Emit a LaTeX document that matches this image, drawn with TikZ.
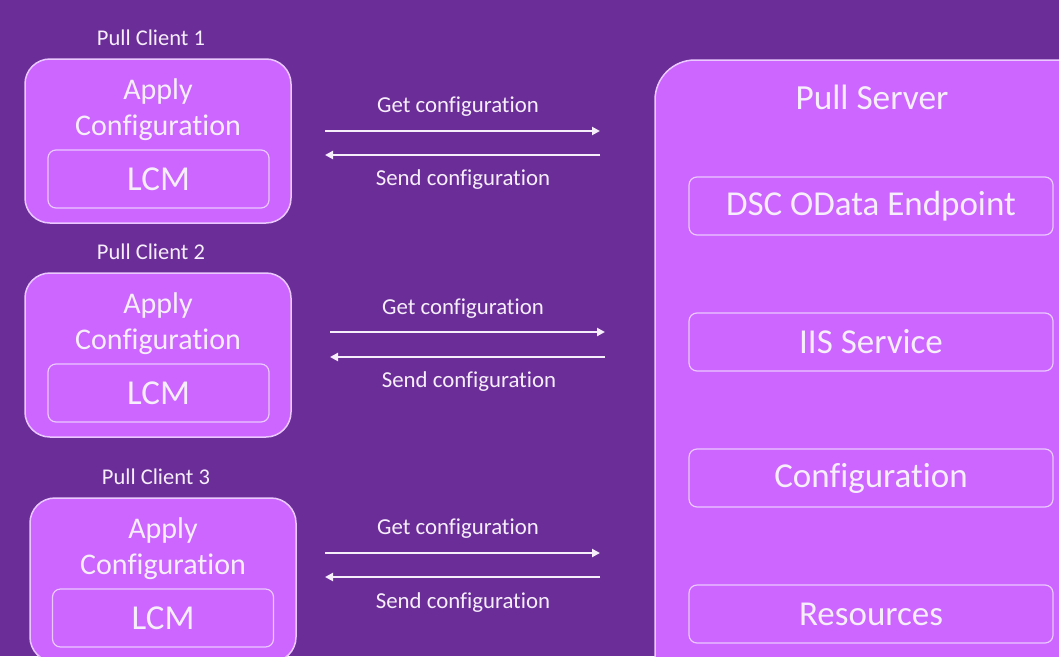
\documentclass[tikz,border=0pt]{standalone}
\usepackage{fontspec}
\setmainfont{Carlito}[Ligatures=NoCommon]
\usetikzlibrary{arrows.meta}
\definecolor{bgpurple}{HTML}{6B2E98}
\definecolor{boxpink}{HTML}{CC66FF}
\definecolor{edgepink}{HTML}{EBC9FF}
\definecolor{txtwhite}{HTML}{F6EEFB}
\tikzset{
  clientbox/.style={draw=edgepink, line width=1.5pt, fill=boxpink, rounded corners=25pt,
    inner sep=0pt, minimum width=266pt, minimum height=164pt},
  serverbox/.style={draw=edgepink, line width=1.5pt, fill=boxpink, rounded corners=40pt,
    inner sep=0pt, minimum width=450pt, minimum height=640pt},
  partbox/.style={draw=edgepink, line width=1.2pt, rounded corners=8pt, inner sep=0pt,
    text=txtwhite, font=\fontsize{35}{40}\selectfont},
  lcmbox/.style={partbox, minimum width=221pt, minimum height=58pt},
  srvpart/.style={partbox, minimum width=364pt, minimum height=58pt},
  title/.style={text=txtwhite, font=\fontsize{22.5}{26}\selectfont},
  applytext/.style={text=txtwhite, align=center, font=\fontsize{30}{36}\selectfont},
  msg/.style={text=txtwhite, font=\fontsize{22.8}{26}\selectfont},
  flow/.style={draw=txtwhite, line width=2pt, -{Triangle[length=8pt,width=8pt]}}
}
\begin{document}
\begin{tikzpicture}[x=1pt, y=-1pt]
  \useasboundingbox (0,0) rectangle (1059,656);
  \fill[bgpurple] (0,0) rectangle (1059,656);
  \clip (0,0) rectangle (1059,656);

  % pull clients
  \node[title] (t1) at (151,38) {Pull Client 1};
  \node[clientbox] (c1) at (158,141) {};
  \node[applytext] (a1) at (158,110) {Apply\\Configuration};
  \node[lcmbox] (l1) at (158.5,179) {LCM};

  \node[title] (t2) at (151,252) {Pull Client 2};
  \node[clientbox] (c2) at (158,355) {};
  \node[applytext] (a2) at (158,324) {Apply\\Configuration};
  \node[lcmbox] (l2) at (158.5,393) {LCM};

  \node[title] (t3) at (156,477) {Pull Client 3};
  \node[clientbox] (c3) at (163,580) {};
  \node[applytext] (a3) at (163,549) {Apply\\Configuration};
  \node[lcmbox] (l3) at (163,618) {LCM};

  % pull server
  \node[serverbox] (srv) at (880,380) {};
  \node[text=txtwhite, font=\fontsize{35.3}{40}\selectfont] (st) at (872,97) {Pull Server};
  \node[srvpart] (odata) at (871,206) {DSC OData Endpoint};
  \node[srvpart] (iis) at (871,342) {IIS Service};
  \node[srvpart] (cfg) at (871,478) {Configuration};
  \node[srvpart] (res) at (871,614) {Resources};

  % messages
  \coordinate (g1a) at (325,131); \coordinate (g1b) at (600,131);
  \coordinate (s1a) at (600,155); \coordinate (s1b) at (325,155);
  \coordinate (g2a) at (330,332); \coordinate (g2b) at (605,332);
  \coordinate (s2a) at (605,357); \coordinate (s2b) at (330,357);
  \coordinate (g3a) at (325,553); \coordinate (g3b) at (600,553);
  \coordinate (s3a) at (600,577); \coordinate (s3b) at (325,577);

  \draw[flow] (g1a) -- (g1b);
  \draw[flow] (s1a) -- (s1b);
  \draw[flow] (g2a) -- (g2b);
  \draw[flow] (s2a) -- (s2b);
  \draw[flow] (g3a) -- (g3b);
  \draw[flow] (s3a) -- (s3b);

  \node[msg] (gm1) at (458,107) {Get configuration};
  \node[msg] (sm1) at (463,180) {Send configuration};
  \node[msg] (gm2) at (463,309) {Get configuration};
  \node[msg] (sm2) at (469,382) {Send configuration};
  \node[msg] (gm3) at (458,529) {Get configuration};
  \node[msg] (sm3) at (463,603) {Send configuration};
\end{tikzpicture}
\end{document}
